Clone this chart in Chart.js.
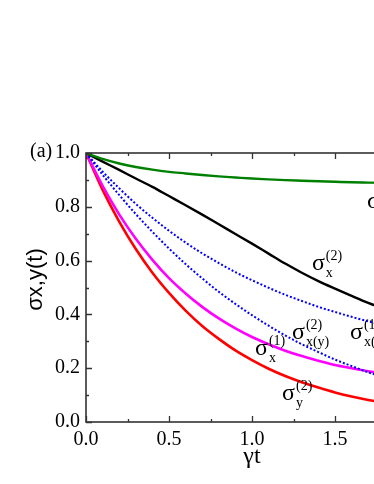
<!DOCTYPE html>
<html>
<head>
<meta charset="utf-8">
<script src="https://cdn.jsdelivr.net/npm/chart.js@4.4.0/dist/chart.umd.min.js"></script>
<style>
    html, body { margin: 0; padding: 0; background: #fff; overflow: hidden; }
    #wrap { position: absolute; left: 0; top: 0; width: 440px; height: 484px; }
</style>
</head>
<body>
<div id="wrap"><canvas id="myChart" width="440" height="484"></canvas></div>
<script>
// gamma*t sample points
const times = [0, 0.1, 0.2, 0.3, 0.4, 0.5, 0.6, 0.7, 0.8, 0.9, 1.0,
               1.1, 1.2, 1.3, 1.4, 1.5, 1.6, 1.7, 1.8, 1.9, 2.0];

// curves
const greenVals   = [1.000, 0.978, 0.961, 0.948, 0.938, 0.930, 0.924, 0.918, 0.913, 0.909, 0.905,
                     0.902, 0.899, 0.897, 0.895, 0.893, 0.891, 0.890, 0.889, 0.888, 0.887];
const blackVals   = [1.000, 0.968, 0.937, 0.905, 0.874, 0.840, 0.806, 0.771, 0.735, 0.699, 0.663,
                     0.626, 0.589, 0.555, 0.524, 0.496, 0.469, 0.443, 0.420, 0.399, 0.380];
const blueUpVals  = [1.000, 0.931, 0.869, 0.811, 0.759, 0.711, 0.667, 0.627, 0.591, 0.557, 0.527,
                     0.499, 0.473, 0.450, 0.428, 0.409, 0.391, 0.374, 0.359, 0.346, 0.333];
const blueLowVals = [1.000, 0.919, 0.844, 0.773, 0.707, 0.645, 0.587, 0.534, 0.484, 0.439, 0.397,
                     0.358, 0.322, 0.289, 0.260, 0.232, 0.208, 0.185, 0.165, 0.147, 0.130];
const magentaVals = [1.000, 0.878, 0.772, 0.681, 0.603, 0.535, 0.478, 0.428, 0.385, 0.348, 0.316,
                     0.289, 0.265, 0.245, 0.228, 0.212, 0.200, 0.189, 0.179, 0.171, 0.164];
const redVals     = [1.000, 0.863, 0.745, 0.643, 0.555, 0.480, 0.414, 0.357, 0.309, 0.266, 0.230,
                     0.198, 0.171, 0.148, 0.128, 0.110, 0.095, 0.082, 0.071, 0.061, 0.053];

const xTicks = [0, 0.5, 1.0, 1.5, 2.0];
const yTicks = [0, 0.2, 0.4, 0.6, 0.8, 1.0];

// curve labels: sigma with superscript / subscript, placed at data coords
const labelSup = ['(2)', '(1)', '(2)', '(1+2)', '(2)', '(1)'];
const labelSub = ['x', 'x', 'x(y)', 'x(y)', 'y', 'y'];
const labelAt = [
    { x: 1.361, y: 0.565 },
    { x: 1.018, y: 0.249 },
    { x: 1.241, y: 0.309 },
    { x: 1.590, y: 0.309 },
    { x: 1.181, y: 0.082 },
    { x: 1.693, y: 0.796 }
];

const serif = "'Liberation Serif', 'Times New Roman', serif";
const sans = "'Liberation Sans', Arial, sans-serif";

function pts(vals) {
    return times.map((t, i) => ({ x: t, y: vals[i] }));
}

function line(vals, color, width, dash) {
    return {
        data: pts(vals),
        borderColor: color,
        borderWidth: width,
        borderDash: dash || [],
        borderCapStyle: 'butt',
        pointRadius: 0,
        fill: false,
        cubicInterpolationMode: 'monotone'
    };
}

// frame with inward ticks, curve labels, y title and panel tag
const framePlugin = {
    id: 'frame',
    afterDatasetsDraw(chart) {
        const ctx = chart.ctx;
        const { left, right, top, bottom } = chart.chartArea;
        const xs = chart.scales.x, ys = chart.scales.y;
        ctx.save();
        ctx.strokeStyle = '#333';
        ctx.lineWidth = 1.6;
        ctx.strokeRect(left, top, right - left, bottom - top);

        ctx.lineWidth = 1.3;
        ctx.beginPath();
        for (let i = 0; i <= 8; i++) {
            const px = Math.round(xs.getPixelForValue(i * 0.25)) + 0.5;
            const len = i % 2 === 0 ? 6 : 3;
            ctx.moveTo(px, bottom); ctx.lineTo(px, bottom - len);
            ctx.moveTo(px, top); ctx.lineTo(px, top + len);
        }
        for (let i = 0; i <= 10; i++) {
            const py = Math.round(ys.getPixelForValue(i * 0.1)) + 0.5;
            const len = i % 2 === 0 ? 6 : 3;
            ctx.moveTo(left, py); ctx.lineTo(left + len, py);
            ctx.moveTo(right, py); ctx.lineTo(right - len, py);
        }
        ctx.stroke();

        ctx.fillStyle = '#000';
        ctx.textBaseline = 'alphabetic';
        ctx.textAlign = 'left';
        labelAt.forEach((p, i) => {
            const px = xs.getPixelForValue(p.x);
            const py = ys.getPixelForValue(p.y);
            ctx.font = '24px ' + serif;
            ctx.fillText('σ', px, py);
            const w = ctx.measureText('σ').width;
            ctx.font = '14px ' + serif;
            ctx.fillText(labelSup[i], px + w + 1, py - 10);
            ctx.fillText(labelSub[i], px + w + 1, py + 7);
        });

        ctx.font = '20px ' + serif;
        ctx.fillText('(a)', left - 56, top + 4);

        // y axis title
        ctx.translate(left - 50, (top + bottom) / 2 - 8);
        ctx.rotate(-Math.PI / 2);
        ctx.textAlign = 'center';
        ctx.textBaseline = 'middle';
        ctx.font = '22px ' + sans;
        ctx.fillText('σx,y(t)', 0, 0);
        ctx.restore();
    }
};

const ctx = document.getElementById('myChart');

new Chart(ctx, {
    type: 'line',
    data: {
        datasets: [
            line(greenVals, '#008000', 2.4),
            line(blackVals, '#000000', 2.4),
            line(blueUpVals, '#0000ff', 2, [2, 2]),
            line(blueLowVals, '#0000ff', 2, [2, 2]),
            line(magentaVals, '#ff00ff', 2.6),
            line(redVals, '#ff0000', 2.6)
        ]
    },
    options: {
        responsive: false,
        animation: false,
        layout: { padding: { top: 153, right: 22, left: 0, bottom: 0 } },
        plugins: {
            legend: { display: false },
            tooltip: { enabled: false }
        },
        scales: {
            x: {
                type: 'linear',
                min: 0,
                max: 2,
                grid: { display: false, drawTicks: false },
                border: { display: false },
                afterBuildTicks: s => { s.ticks = xTicks.map(v => ({ value: v })); },
                ticks: {
                    padding: 6,
                    color: '#000',
                    maxRotation: 0,
                    font: { family: serif, size: 20 },
                    callback: v => Number(v).toFixed(1)
                },
                title: {
                    display: true,
                    text: 'γt',
                    color: '#000',
                    font: { family: serif, size: 24 },
                    padding: { top: 0, bottom: 13 }
                },
                afterFit: s => { s.height = 62; }
            },
            y: {
                type: 'linear',
                min: 0,
                max: 1,
                grid: { display: false, drawTicks: false },
                border: { display: false },
                afterBuildTicks: s => { s.ticks = yTicks.map(v => ({ value: v })); },
                ticks: {
                    padding: 6,
                    color: '#000',
                    font: { family: serif, size: 20 },
                    callback: v => Number(v).toFixed(1)
                },
                title: { display: false },
                afterFit: s => { s.width = 86; }
            }
        }
    },
    plugins: [framePlugin]
});
</script>
</body>
</html>
